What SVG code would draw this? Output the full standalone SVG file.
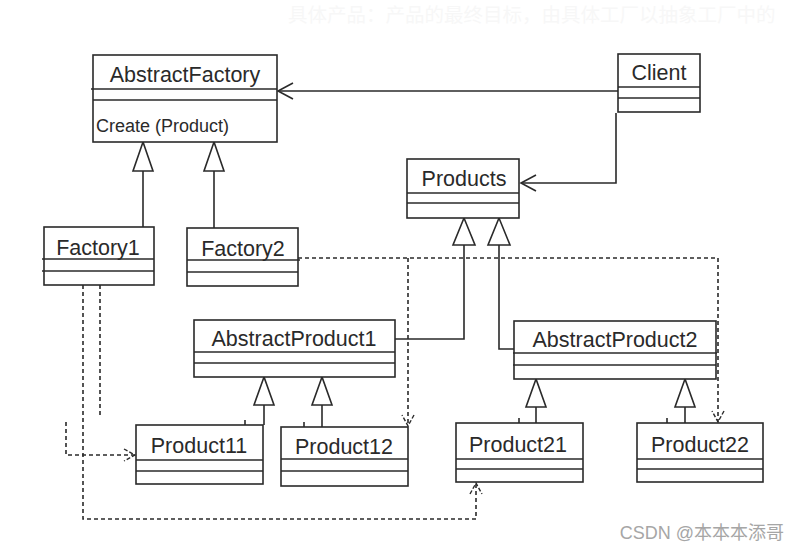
<svg xmlns="http://www.w3.org/2000/svg" width="799" height="553" viewBox="0 0 799 553">
<style>
  .box{fill:#fff;stroke:#2a2a2a;stroke-width:1.6}
  .sep{stroke:#2a2a2a;stroke-width:1.6}
  .t{font-family:"Liberation Sans",Arial,sans-serif;font-size:21.5px;fill:#2a2a2a;text-anchor:middle}
  .m{font-family:"Liberation Sans",Arial,sans-serif;font-size:18px;fill:#2a2a2a}
  .ln{fill:none;stroke:#2a2a2a;stroke-width:1.6}
  .dl{fill:none;stroke:#2a2a2a;stroke-width:1.6;stroke-dasharray:4 3}
  .tri{fill:#fff;stroke:#2a2a2a;stroke-width:1.6}
  .faint{font-family:"Noto Sans CJK SC",sans-serif;font-size:19.5px;fill:#f7f7f7}
  .wm{font-family:"Liberation Sans","Noto Sans CJK SC",sans-serif;font-size:18px;fill:#a6a6a6;text-anchor:end}
</style>
<defs>
  <marker id="open" markerUnits="userSpaceOnUse" viewBox="-18 -10 20 20" markerWidth="20" markerHeight="20" refX="0" refY="0" orient="auto" overflow="visible">
    <path d="M-15,-8 L0,0 L-15,8" fill="none" stroke="#2a2a2a" stroke-width="1.6"/>
  </marker>
  <marker id="dopen" markerUnits="userSpaceOnUse" viewBox="-12 -8 14 16" markerWidth="14" markerHeight="16" refX="0" refY="0" orient="auto" overflow="visible">
    <path d="M-11,-6 L0,0 L-11,6" fill="none" stroke="#2a2a2a" stroke-width="1.4" stroke-dasharray="4 2"/>
  </marker>
</defs>
<rect width="799" height="553" fill="#fff"/>
<text class="faint" x="288" y="22">具体产品：产品的最终目标，由具体工厂以抽象工厂中的</text>

<g id="connectors">
  <line class="ln" x1="618" y1="91" x2="278" y2="91" marker-end="url(#open)"/>
  <path class="ln" d="M616,113 V183 H521" marker-end="url(#open)"/>
  <line class="ln" x1="143" y1="227" x2="143" y2="171"/>
  <polygon class="tri" points="143,142 133,171 153,171"/>
  <line class="ln" x1="214" y1="228" x2="214" y2="171"/>
  <polygon class="tri" points="214,142 204,171 224,171"/>
  <path class="ln" d="M395,339 H464 V245"/>
  <polygon class="tri" points="464,218 453,245 475,245"/>
  <path class="ln" d="M514,349 H499 V245"/>
  <polygon class="tri" points="499,218 488,245 510,245"/>
  <line class="ln" x1="264" y1="425" x2="264" y2="405"/>
  <polygon class="tri" points="264,377 254,405 274,405"/>
  <line class="ln" x1="322" y1="427" x2="322" y2="405"/>
  <polygon class="tri" points="322,377 312,405 332,405"/>
  <line class="ln" x1="536" y1="423" x2="536" y2="407"/>
  <polygon class="tri" points="536,379 526,407 546,407"/>
  <line class="ln" x1="685" y1="423" x2="685" y2="407"/>
  <polygon class="tri" points="685,379 675,407 695,407"/>
  <path class="dl" d="M298,258 H718 V422" marker-end="url(#dopen)"/>
  <path class="dl" d="M408,258 V426" marker-end="url(#dopen)"/>
  <path class="dl" d="M100,285 V417"/>
  <path class="dl" d="M83,285 V519 H476 V483" marker-end="url(#dopen)"/>
  <path class="dl" d="M66,422 V455 H135" marker-end="url(#dopen)"/>
  <g class="ln">
    <line x1="245" y1="420" x2="245" y2="425"/>
    <line x1="304" y1="422" x2="304" y2="427"/>
    <line x1="519" y1="418" x2="519" y2="423"/>
    <line x1="667" y1="418" x2="667" y2="423"/>
  </g>
</g>

<g id="AbstractFactory">
  <rect class="box" x="93" y="55" width="184" height="87"/>
  <line class="sep" x1="91" y1="89" x2="277" y2="89"/>
  <line class="sep" x1="93" y1="100" x2="277" y2="100"/>
  <text class="t" x="185" y="82">AbstractFactory</text>
  <text class="m" x="96" y="132">Create (Product)</text>
</g>
<g id="Client">
  <rect class="box" x="618" y="54" width="82" height="58"/>
  <line class="sep" x1="618" y1="87" x2="700" y2="87"/>
  <line class="sep" x1="618" y1="98" x2="700" y2="98"/>
  <text class="t" x="659" y="80">Client</text>
</g>
<g id="Products">
  <rect class="box" x="407" y="159" width="112" height="59"/>
  <line class="sep" x1="407" y1="193" x2="519" y2="193"/>
  <line class="sep" x1="407" y1="203" x2="519" y2="203"/>
  <text class="t" x="464" y="186">Products</text>
</g>
<g id="Factory1">
  <rect class="box" x="44" y="227" width="110" height="58"/>
  <line class="sep" x1="42" y1="259" x2="154" y2="259"/>
  <line class="sep" x1="42" y1="271" x2="154" y2="271"/>
  <text class="t" x="98" y="255">Factory1</text>
</g>
<g id="Factory2">
  <rect class="box" x="187" y="228" width="111" height="58"/>
  <line class="sep" x1="187" y1="260" x2="300" y2="260"/>
  <line class="sep" x1="187" y1="272" x2="298" y2="272"/>
  <text class="t" x="243" y="256">Factory2</text>
</g>
<g id="AbstractProduct1">
  <rect class="box" x="194" y="320" width="201" height="57"/>
  <line class="sep" x1="194" y1="352" x2="395" y2="352"/>
  <line class="sep" x1="194" y1="363" x2="395" y2="363"/>
  <text class="t" x="294" y="346">AbstractProduct1</text>
</g>
<g id="AbstractProduct2">
  <rect class="box" x="514" y="321" width="202" height="58"/>
  <line class="sep" x1="513" y1="353" x2="717" y2="353"/>
  <line class="sep" x1="513" y1="365" x2="716" y2="365"/>
  <text class="t" x="615" y="347">AbstractProduct2</text>
</g>
<g id="Product11">
  <rect class="box" x="136" y="425" width="127" height="59"/>
  <line class="sep" x1="136" y1="460" x2="263" y2="460"/>
  <line class="sep" x1="136" y1="471" x2="263" y2="471"/>
  <text class="t" x="199" y="453">Product11</text>
</g>
<g id="Product12">
  <rect class="box" x="281" y="427" width="127" height="59"/>
  <line class="sep" x1="281" y1="459" x2="408" y2="459"/>
  <line class="sep" x1="281" y1="471" x2="408" y2="471"/>
  <text class="t" x="344" y="454">Product12</text>
</g>
<g id="Product21">
  <rect class="box" x="456" y="423" width="127" height="59"/>
  <line class="sep" x1="456" y1="459" x2="583" y2="459"/>
  <line class="sep" x1="456" y1="469" x2="583" y2="469"/>
  <text class="t" x="518" y="452">Product21</text>
</g>
<g id="Product22">
  <rect class="box" x="637" y="423" width="126" height="59"/>
  <line class="sep" x1="637" y1="459" x2="763" y2="459"/>
  <line class="sep" x1="637" y1="469" x2="763" y2="469"/>
  <text class="t" x="700" y="452">Product22</text>
</g>
<text class="wm" x="784" y="539">CSDN @本本本添哥</text>
</svg>
